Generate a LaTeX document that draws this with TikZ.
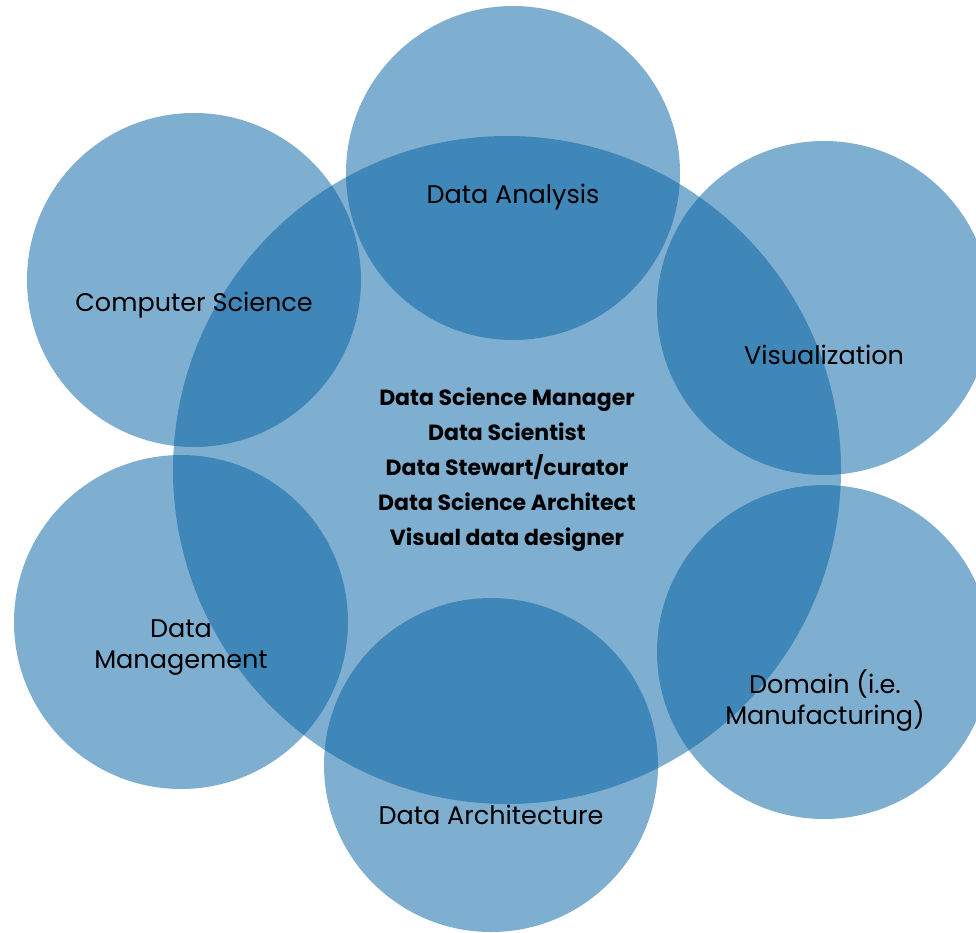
\documentclass[tikz,border=0pt]{standalone}
\usepackage{fontspec}
\setmainfont{Poppins}
\definecolor{circblue}{RGB}{0,95,161}
\begin{document}
\begin{tikzpicture}[x=1pt,y=-1pt,
  bubble/.style={circle, fill=circblue, fill opacity=0.5, draw=none, inner sep=0pt},
  outer/.style={bubble, minimum size=334pt},
  hub/.style={bubble, minimum size=668pt},
  lbl/.style={text=black, align=center, font=\fontsize{25.5}{31}\selectfont, inner sep=0pt},
  roles/.style={text=black, align=center, font=\bfseries\fontsize{22}{35}\selectfont, inner sep=0pt}]
\useasboundingbox (0,0) rectangle (976,932);
\node[hub] (hubc) at (507,470) {};
\node[outer] (ana) at (513,173) {};
\node[outer] (cs) at (194,280) {};
\node[outer] (vis) at (824,308) {};
\node[outer] (dm) at (181,622) {};
\node[outer] (arch) at (491,765) {};
\node[outer] (dom) at (824,652) {};
\node[lbl] (tana) at (513,197) {Data Analysis};
\node[lbl] (tcs) at (194,305) {Computer Science};
\node[lbl] (tvis) at (824,355) {Visualization};
\node[lbl] (tdm) at (181,648) {Data\\Management};
\node[lbl] (tarch) at (491,815) {Data Architecture};
\node[lbl] (tdom) at (825,701) {Domain (i.e.\\Manufacturing)};
\node[roles] (troles) at (507,470) {Data Science Manager\\Data Scientist\\Data Stewart/curator\\Data Science Architect\\Visual data designer};
\end{tikzpicture}
\end{document}
